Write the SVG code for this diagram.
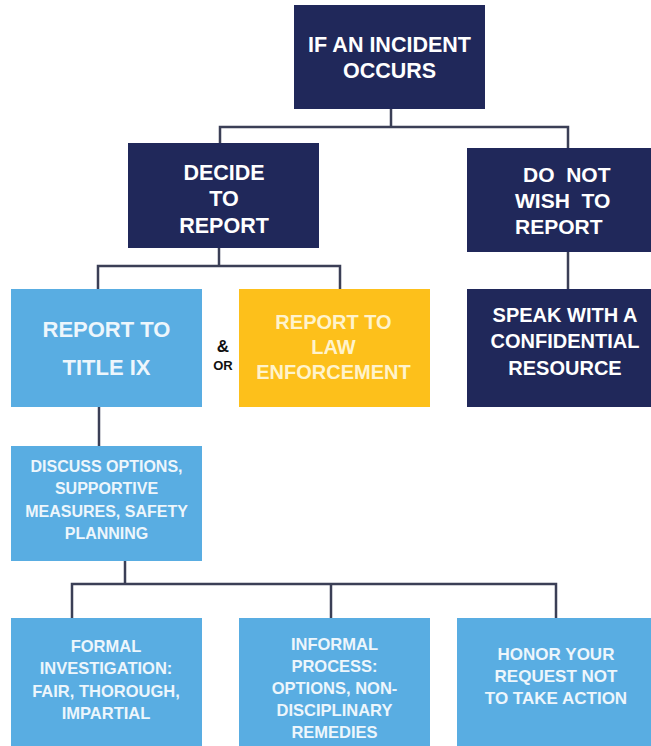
<svg xmlns="http://www.w3.org/2000/svg" width="651" height="746" viewBox="0 0 651 746">
  <style>
    text { font-family: "Liberation Sans", Arial, sans-serif; font-weight: bold; text-anchor: middle; }
    .navy { fill: #20285A; }
    .blue { fill: #59ADE2; }
    .yellow { fill: #FDC01B; }
    .tw { fill: #FFFFFF; }
    .tb { fill: #EDF6FC; }
    .ty { fill: #FFF3CC; }
    .conn { fill: none; stroke: #3B3F56; stroke-width: 2.5; }
  </style>
  <rect width="651" height="746" fill="#FFFFFF"/>
  <g id="connectors">
    <path class="conn" d="M391,109 V127"/>
    <path class="conn" d="M220,143 V127 H568 V148"/>
    <path class="conn" d="M219,248 V266"/>
    <path class="conn" d="M98,289 V266 H340 V289"/>
    <path class="conn" d="M568,252 V289"/>
    <path class="conn" d="M99,407 V446"/>
    <path class="conn" d="M125,561 V584"/>
    <path class="conn" d="M72,618 V584 H556 V618"/>
    <path class="conn" d="M331,584 V618"/>
  </g>
  <g id="incident">
    <rect class="navy" x="294" y="5" width="191" height="104"/>
    <text class="tw" font-size="21.5"><tspan x="389.5" y="52">IF AN INCIDENT</tspan><tspan x="389.5" y="78">OCCURS</tspan></text>
  </g>
  <g id="decide">
    <rect class="navy" x="128" y="143" width="191" height="105"/>
    <text class="tw" font-size="21.5"><tspan x="224" y="180">DECIDE</tspan><tspan x="224" y="206">TO</tspan><tspan x="224" y="233">REPORT</tspan></text>
  </g>
  <g id="donot">
    <rect class="navy" x="467" y="148" width="184" height="104"/>
    <text class="tw" font-size="21" style="text-anchor:start"><tspan x="523" y="182">DO&#160;&#160;NOT</tspan><tspan x="515" y="208">WISH&#160;&#160;TO</tspan><tspan x="515" y="234">REPORT</tspan></text>
  </g>
  <g id="titleix">
    <rect class="blue" x="11" y="289" width="191" height="118"/>
    <text class="tb" font-size="22"><tspan x="106.5" y="337">REPORT TO</tspan><tspan x="106.5" y="375">TITLE IX</tspan></text>
  </g>
  <g id="andor">
    <text fill="#111111" x="223" y="352" font-size="17">&amp;</text>
    <text fill="#111111" x="223" y="370" font-size="13">OR</text>
  </g>
  <g id="law">
    <rect class="yellow" x="239" y="289" width="191" height="118"/>
    <text class="ty" font-size="20"><tspan x="333.5" y="329">REPORT TO</tspan><tspan x="333.5" y="354">LAW</tspan><tspan x="333.5" y="379">ENFORCEMENT</tspan></text>
  </g>
  <g id="speak">
    <rect class="navy" x="467" y="289" width="184" height="118"/>
    <text class="tw" font-size="20"><tspan x="565" y="322">SPEAK WITH A</tspan><tspan x="565" y="348">CONFIDENTIAL</tspan><tspan x="565" y="375">RESOURCE</tspan></text>
  </g>
  <g id="discuss">
    <rect class="blue" x="11" y="446" width="191" height="115"/>
    <text class="tb" font-size="16"><tspan x="106.5" y="472">DISCUSS OPTIONS,</tspan><tspan x="106.5" y="494">SUPPORTIVE</tspan><tspan x="106.5" y="517">MEASURES, SAFETY</tspan><tspan x="106.5" y="539">PLANNING</tspan></text>
  </g>
  <g id="formal">
    <rect class="blue" x="11" y="618" width="191" height="128"/>
    <text class="tb" font-size="16.5"><tspan x="106" y="652">FORMAL</tspan><tspan x="106" y="674">INVESTIGATION:</tspan><tspan x="106" y="697">FAIR, THOROUGH,</tspan><tspan x="106" y="719">IMPARTIAL</tspan></text>
  </g>
  <g id="informal">
    <rect class="blue" x="239" y="618" width="191" height="128"/>
    <text class="tb" font-size="16.5"><tspan x="334.5" y="650">INFORMAL</tspan><tspan x="334.5" y="672">PROCESS:</tspan><tspan x="334.5" y="694">OPTIONS, NON-</tspan><tspan x="334.5" y="716">DISCIPLINARY</tspan><tspan x="334.5" y="738">REMEDIES</tspan></text>
  </g>
  <g id="honor">
    <rect class="blue" x="457" y="618" width="194" height="128"/>
    <text class="tb" font-size="17"><tspan x="556" y="660">HONOR YOUR</tspan><tspan x="556" y="682">REQUEST NOT</tspan><tspan x="556" y="704">TO TAKE ACTION</tspan></text>
  </g>
</svg>
